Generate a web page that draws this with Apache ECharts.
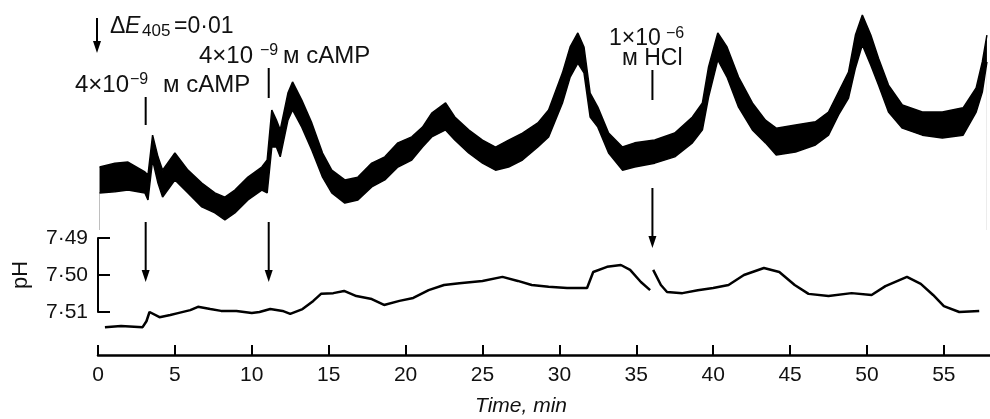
<!DOCTYPE html>
<html><head><meta charset="utf-8">
<script src="https://cdn.jsdelivr.net/npm/echarts@6/dist/echarts.min.js"></script>
<style>html,body{margin:0;padding:0;background:#fff}#c{width:990px;height:419px}</style>
</head><body><div id="c"></div>
<script>
// Absorbance trace (ΔE405, units of 0.001, relative): upper and lower edge of the noisy band
const absTime = [0.1,1.1,1.95,3.05,3.25,3.55,3.9,4.2,5.0,5.85,6.75,7.6,8.25,8.9,9.75,10.65,11.0,11.3,11.6,11.85,12.35,12.65,13.25,13.9,14.6,15.2,16.05,16.9,17.8,18.65,19.5,20.4,21.1,21.7,22.6,23.2,24.1,25.0,25.85,26.7,27.6,28.6,29.3,30.2,30.7,31.2,31.6,32.0,32.5,33.2,34.1,34.9,36.2,37.5,38.65,39.3,39.7,40.3,40.9,41.65,42.55,43.4,44.1,45.35,46.65,47.5,48.15,48.8,49.25,49.7,50.25,50.75,51.4,52.3,53.6,54.9,56.25,57.1,57.5,57.8];
const absHigh = [18.0,19.1,19.4,16.6,15.7,27.1,20.9,17.1,22.0,17.1,13.4,10.6,9.4,11.4,15.1,18.0,20.0,34.3,31.4,28.6,39.1,42.3,37.1,30.6,22.0,17.1,14.3,15.1,19.1,20.9,24.9,26.6,29.4,33.4,36.3,32.3,28.6,25.7,23.7,25.7,27.7,30.6,34.3,44.9,52.3,56.3,52.3,39.1,35.1,27.7,23.7,24.9,25.7,27.7,32.3,36.3,46.6,56.3,52.3,43.7,36.3,31.4,29.1,30.0,30.9,33.7,39.4,45.1,55.7,61.4,55.7,49.1,41.4,35.7,33.7,33.7,34.9,40.6,48.0,55.7];
const absLow = [10.6,10.9,11.4,10.6,8.6,20.0,13.4,9.4,14.3,10.6,6.6,4.9,2.9,4.9,8.6,11.4,10.6,23.7,23.7,20.9,31.4,34.3,29.4,22.9,15.1,10.6,7.7,8.6,12.3,14.3,18.0,20.0,23.7,26.6,28.6,25.7,22.0,19.1,17.1,18.0,20.0,23.7,26.6,36.3,43.7,47.7,44.9,32.3,29.4,22.0,17.1,18.0,19.1,20.9,24.9,28.6,38.0,48.6,43.7,35.1,28.6,24.9,21.4,22.3,24.3,27.1,32.9,37.7,46.3,52.9,47.1,41.4,33.7,29.1,27.1,26.3,27.1,33.7,39.4,48.0];

// pH trace
const phTime = [0.45,1.5,2.9,3.15,3.35,4.0,4.7,5.2,6.0,6.5,7.3,8.0,9.0,10.0,10.5,11.2,12.0,12.5,13.3,14.0,14.5,15.3,16.0,16.8,17.8,18.6,19.6,20.5,21.5,22.5,23.5,25.0,26.3,27.3,28.2,29.3,30.5,31.8,32.2,33.1,34.0,34.6,35.3,35.9,36.0,36.1,36.6,37.0,38.0,39.0,40.0,41.0,42.0,43.3,44.3,45.3,46.2,47.5,49.0,50.3,51.2,52.6,53.5,54.3,55.0,56.0,57.3];
const phValue = [7.5141,7.5138,7.5141,7.5125,7.5100,7.5114,7.5108,7.5103,7.5095,7.5086,7.5092,7.5097,7.5097,7.5103,7.5100,7.5092,7.5097,7.5105,7.5092,7.5070,7.5051,7.5049,7.5043,7.5057,7.5065,7.5081,7.5070,7.5062,7.5041,7.5027,7.5022,7.5016,7.5005,7.5016,7.5027,7.5032,7.5035,7.5035,7.4992,7.4978,7.4973,7.4986,7.5019,7.5041,null,7.4986,7.5027,7.5046,7.5049,7.5041,7.5035,7.5027,7.5000,7.4981,7.4992,7.5027,7.5051,7.5057,7.5049,7.5054,7.5030,7.5005,7.5024,7.5054,7.5084,7.5100,7.5097];

const xTicks = [0,5,10,15,20,25,30,35,40,45,50,55];
const phTicks = [7.49,7.50,7.51];
const cAMPTimes = [3.1, 11.1];
const hclTime = 36.05;

const FONT = '"Liberation Sans", Arial, Helvetica, sans-serif';
const chart = echarts.init(document.getElementById('c'));

const option = {
  animation: false,
  backgroundColor: '#fff',
  grid: [
    {left: 98, right: 0, top: 6, height: 224},
    {left: 98, right: 0, top: 238, height: 74}
  ],
  xAxis: [
    {gridIndex: 0, type: 'value', min: 0, max: 58, show: false},
    {gridIndex: 1, type: 'value', min: 0, max: 58, position: 'bottom', offset: 43,
     axisLine: {onZero: false, lineStyle: {color: '#000', width: 2.5}},
     axisTick: {inside: true, length: 10, lineStyle: {color: '#000', width: 2}, customValues: xTicks},
     axisLabel: {customValues: xTicks, margin: 10, fontSize: 21, color: '#111', fontFamily: FONT},
     splitLine: {show: false}}
  ],
  yAxis: [
    {gridIndex: 0, type: 'value', min: 0, max: 64, show: false},
    {gridIndex: 1, type: 'value', min: 7.49, max: 7.51, interval: 0.01, inverse: true,
     name: 'pH', nameLocation: 'middle', nameGap: 66, nameRotate: 90,
     nameTextStyle: {fontSize: 22, color: '#111', fontFamily: FONT},
     axisLine: {show: true, lineStyle: {color: '#000', width: 2}},
     axisTick: {show: true, inside: true, length: 12, lineStyle: {color: '#000', width: 2}, customValues: phTicks},
     axisLabel: {customValues: phTicks, margin: 10, fontSize: 21, color: '#111', fontFamily: FONT,
       formatter: v => v.toFixed(2).replace('.', '·')},
     splitLine: {show: false}}
  ],
  series: [
    // upper edge of the band, filled black down to the bottom of the panel
    {type: 'line', xAxisIndex: 0, yAxisIndex: 0, symbol: 'none', z: 2,
     lineStyle: {color: '#000', width: 1.5},
     areaStyle: {color: '#000', opacity: 1, origin: 'start'},
     data: absTime.map((t, i) => [t, absHigh[i]])},
    // lower edge of the band, filled white below so only the band stays black
    {type: 'line', xAxisIndex: 0, yAxisIndex: 0, symbol: 'none', z: 3,
     lineStyle: {color: '#000', width: 1.5},
     areaStyle: {color: '#fff', opacity: 1, origin: 'start'},
     data: absTime.map((t, i) => [t, absLow[i]])},
    {type: 'line', xAxisIndex: 1, yAxisIndex: 1, symbol: 'none', clip: false, z: 4,
     connectNulls: false,
     lineStyle: {color: '#000', width: 2.5},
     data: phTime.map((t, i) => [t, phValue[i] === null ? '-' : phValue[i]])}
  ]
};
chart.setOption(option);

const px = t => chart.convertToPixel({xAxisIndex: 1}, t);
function vline(x, y1, y2) {
  return {type: 'line', z: 100, shape: {x1: x, y1: y1, x2: x, y2: y2}, style: {stroke: '#000', lineWidth: 2}};
}
function arrow(x, y1, y2) {
  return [vline(x, y1, y2 - 6),
    {type: 'polygon', z: 100, shape: {points: [[x - 4, y2 - 12], [x + 4, y2 - 12], [x, y2]]}, style: {fill: '#000'}}];
}
function txt(s, x, y, size, italic) {
  return {type: 'text', z: 100, x: x, y: y,
    style: {text: s, font: (italic ? 'italic ' : '') + size + 'px ' + FONT, fill: '#111',
      textAlign: 'left', textVerticalAlign: 'middle', align: 'left', verticalAlign: 'middle'}};
}
const g = [];
// scale bar
g.push(...arrow(97, 18, 53));
g.push(txt('Δ', 110, 27, 23), txt('E', 125, 27, 23, true), txt('405', 142, 31, 17), txt('=0·01', 174, 27, 23));
// cAMP additions
const c1 = px(cAMPTimes[0]), c2 = px(cAMPTimes[1]), h = px(hclTime);
g.push(vline(c1, 97, 125), ...arrow(c1, 222, 282));
g.push(vline(c2, 68, 98), ...arrow(c2, 222, 282));
g.push(txt('4×10', 75, 85, 24), txt('−9', 130, 80, 16), txt('м cAMP', 163, 85, 24));
g.push(txt('4×10', 199, 56, 24), txt('−9', 260, 51, 16), txt('м cAMP', 283, 56, 24));
// HCl
g.push(vline(h, 70, 100), ...arrow(h, 188, 248));
g.push(txt('1×10', 609, 39, 23), txt('−6', 666, 34, 16), txt('м HCl', 622, 59, 23));
// axis title
g.push(txt('Time, min', 475, 406, 21, true));
chart.setOption({graphic: {elements: g}});
</script>
</body></html>
